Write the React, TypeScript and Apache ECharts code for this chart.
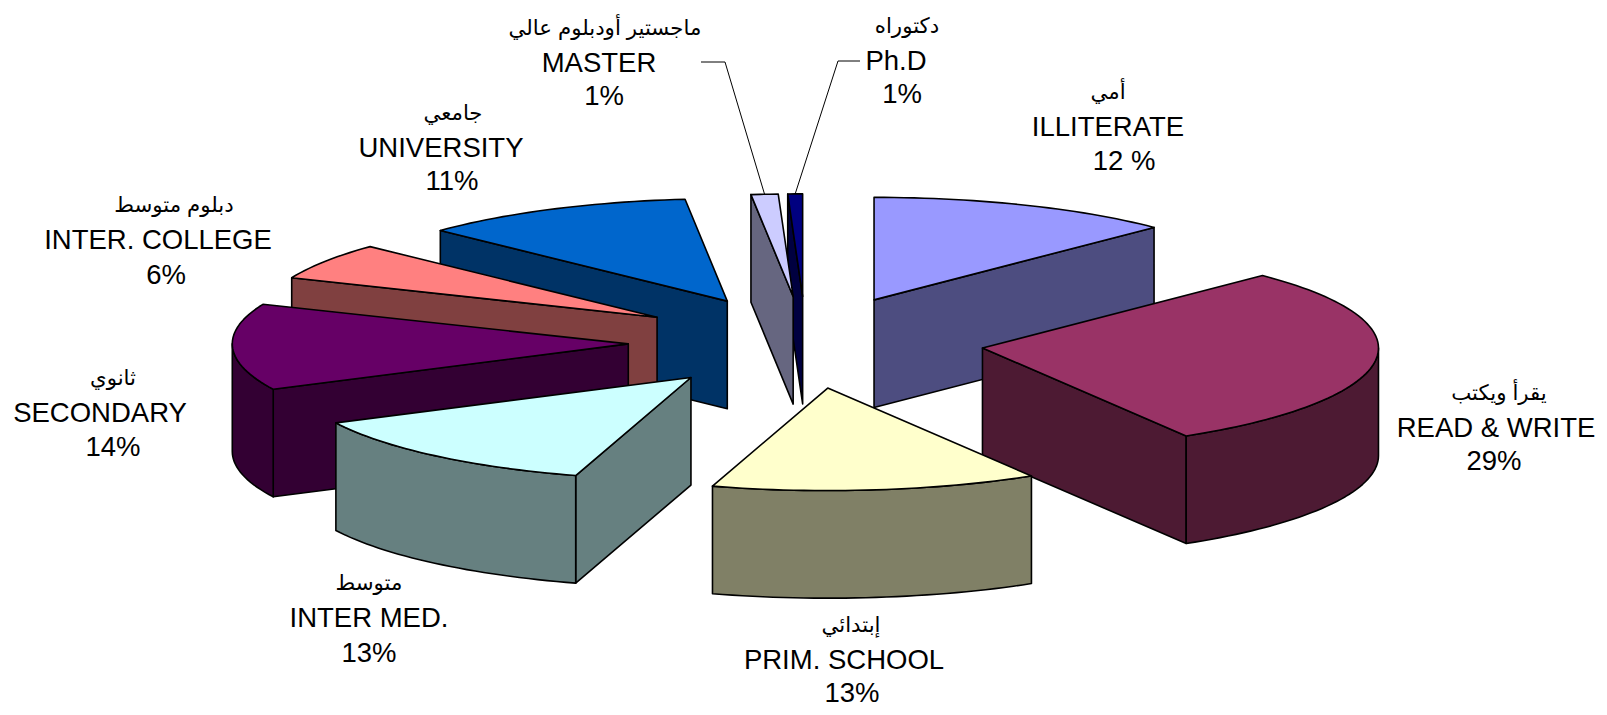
import React, { useEffect, useRef } from "react";
import * as echarts from "echarts";

// Data (clockwise from 12 o'clock)
const arabicNames = ["أمي", "يقرأ ويكتب", "إبتدائي", "متوسط", "ثانوي", "دبلوم متوسط", "جامعي", "ماجستير أودبلوم عالي", "دكتوراه"];
const englishNames = ["ILLITERATE", "READ & WRITE", "PRIM. SCHOOL", "INTER MED.", "SECONDARY", "INTER. COLLEGE", "UNIVERSITY", "MASTER", "Ph.D"];
const percentLabels = ["12 %", "29%", "13%", "13%", "14%", "6%", "11%", "1%", "1%"];
const sliceValues = [12.5, 28.9, 13.3, 13, 13.6, 5.8, 11.2, 1.1, 0.6];

// Styles
const topColors = ["#9999FF", "#993366", "#FFFFCC", "#CCFFFF", "#660066", "#FF8080", "#0066CC", "#CCCCFF", "#000080"];
const sideColors = ["#4D4D80", "#4D1A33", "#808066", "#668080", "#330033", "#804040", "#003366", "#666680", "#000040"];

// Layout
const CX = 806, CY = 342.4, RX = 396, RY = 102.5, DEPTH = 107.6, EXPLODE = 0.449;
const FONT = '"Liberation Sans", Arial, sans-serif';
const ARABIC_FONT = '"Liberation Sans", "DejaVu Sans", sans-serif';
const LABEL_LINES: number[][][] = [
  [[1108, 92], [1108, 126], [1124, 160]],
  [[1499, 393], [1496, 427], [1494, 460]],
  [[851, 625], [844, 659], [852, 692]],
  [[369, 583], [369, 617], [369, 652]],
  [[113, 378], [100, 412], [113, 446]],
  [[174, 205], [158, 239], [166, 274]],
  [[453, 113], [441, 147], [452, 180]],
  [[605, 28], [599, 62], [604, 95]],
  [[907, 26], [896, 60], [902, 93]],
];
const LEADER_POINTS: Record<number, number[][]> = {
  7: [[701, 62], [725, 62]],
  8: [[860, 61], [838, 61]],
};

const totalValue = sliceValues.reduce((a, b) => a + b, 0);
const rad = (d: number) => (d * Math.PI) / 180;
const startAngles = sliceValues.map((_, i) =>
  (sliceValues.slice(0, i).reduce((a, b) => a + b, 0) / totalValue) * 360
);
const endAngles = startAngles.map((s, i) => s + (sliceValues[i] / totalValue) * 360);
const apexOf = (i: number) => {
  const m = rad((startAngles[i] + endAngles[i]) / 2);
  return [CX + EXPLODE * RX * Math.sin(m), CY - EXPLODE * RY * Math.cos(m)];
};
const drawOrder = sliceValues.map((_, i) => i).sort((a, b) => apexOf(a)[1] - apexOf(b)[1]);

function renderSlice(_params: any, api: any) {
  const i = api.value(0) as number;
  const t0 = startAngles[i], t1 = endAngles[i];
  const [ax, ay] = apexOf(i);
  const rim = (t: number, dy = 0) => [ax + RX * Math.sin(rad(t)), ay - RY * Math.cos(rad(t)) + dy];
  const arc = (a: number, b: number, dy = 0) => {
    const n = Math.max(2, Math.ceil(Math.abs(b - a) / 1.5));
    const pts: number[][] = [];
    for (let k = 0; k <= n; k++) pts.push(rim(a + ((b - a) * k) / n, dy));
    return pts;
  };
  const faceStyle = (fill: string) => ({ fill, stroke: "#000", lineWidth: 1.6, lineJoin: "round" });
  const children: any[] = [];
  const radialFace = (t: number) => ({
    type: "polygon",
    shape: { points: [[ax, ay], rim(t), rim(t, DEPTH), [ax, ay + DEPTH]] },
    style: faceStyle(sideColors[i]),
  });
  if (Math.sin(rad(t0)) < 0) children.push(radialFace(t0));
  if (Math.sin(rad(t1)) > 0.001) children.push(radialFace(t1));
  const a = Math.max(t0, 90), b = Math.min(t1, 270);
  if (b > a) {
    children.push({
      type: "polygon",
      shape: { points: [...arc(a, b), ...arc(b, a, DEPTH)] },
      style: faceStyle(sideColors[i]),
    });
  }
  children.push({
    type: "polygon",
    shape: { points: [[ax, ay], ...arc(t0, t1)] },
    style: faceStyle(topColors[i]),
  });
  if (LEADER_POINTS[i]) {
    children.push({
      type: "polyline",
      shape: { points: [...LEADER_POINTS[i], rim((t0 + t1) / 2)] },
      style: { fill: "none", stroke: "#000", lineWidth: 1 },
    });
  }
  const lines = [arabicNames[i], englishNames[i], percentLabels[i]];
  lines.forEach((text, k) => {
    children.push({
      type: "text",
      x: LABEL_LINES[i][k][0],
      y: LABEL_LINES[i][k][1],
      style: {
        text,
        fill: "#000",
        align: "center",
        verticalAlign: "middle",
        font: k === 0 ? `21.3px ${ARABIC_FONT}` : `27.5px ${FONT}`,
      },
    });
  });
  return { type: "group", children };
}

export default function App() {
  const ref = useRef<HTMLDivElement>(null);
  useEffect(() => {
    document.body.style.margin = "0";
    document.body.style.background = "#fff";
    const chart = echarts.init(ref.current!, null, { renderer: "svg" });
    chart.setOption({
      animation: false,
      backgroundColor: "#fff",
      series: [
        {
          type: "custom",
          coordinateSystem: "none",
          silent: true,
          clip: false,
          renderItem: renderSlice,
          data: drawOrder.map((i) => [i, sliceValues[i]]),
        },
      ],
    });
    return () => chart.dispose();
  }, []);
  return <div ref={ref} style={{ width: 1607, height: 715 }} />;
}
